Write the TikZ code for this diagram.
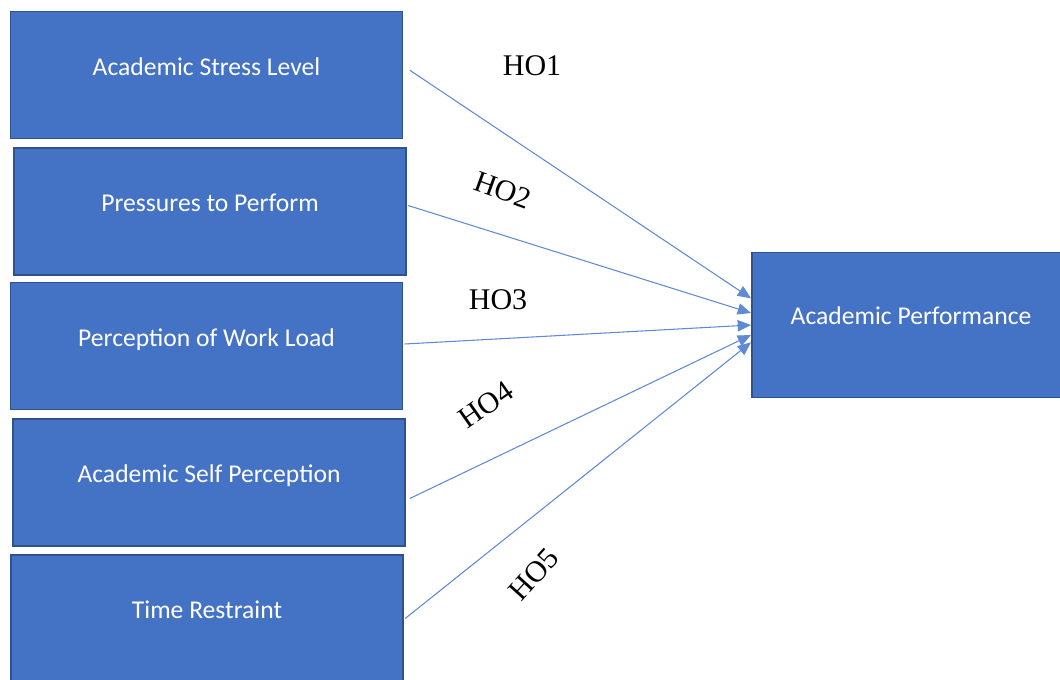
\documentclass[tikz,border=0pt]{standalone}
\usepackage{fontspec}
\setmainfont{Carlito}
\newfontfamily\hofont{Liberation Serif}
\usetikzlibrary{arrows.meta}

\definecolor{boxfill}{RGB}{68,114,196}
\definecolor{boxline}{RGB}{47,82,143}
\definecolor{linkblue}{RGB}{96,138,212}

\tikzset{
  factor/.style={draw=boxline, line width=1.2pt, fill=boxfill, text=white,
    minimum width=294pt, minimum height=95pt, inner sep=0pt,
    font=\fontsize{19.2}{22}\selectfont, text height=12pt, text depth=12pt},
  outcome/.style={factor, minimum width=260pt, minimum height=109pt},
  link/.style={draw=linkblue, line width=0.8pt,
    -{Triangle[length=10pt,width=8.5pt]}},
  hyp/.style={font=\hofont\fontsize{22.5}{24}\selectfont, inner sep=0pt}
}

\begin{document}
\begin{tikzpicture}[x=0.75pt,y=-0.75pt]
  \useasboundingbox (0,0) rectangle (1060,679);
  % predictors on the left
  \node[factor] (stress) at (206.5,75) {Academic Stress Level};
  \node[factor] (pressure) at (210,211.5) {Pressures to Perform};
  \node[factor] (workload) at (206.5,346) {Perception of Work Load};
  \node[factor] (selfperc) at (209,482.5) {Academic Self Perception};
  \node[factor] (timerest) at (207,618.5) {Time Restraint};
  % dependent variable, runs off the right edge
  \node[outcome, anchor=west] (perf) at (751,325) {};
  \node[font=\fontsize{19.2}{22}\selectfont, text=white] (perftext) at (911,316) {Academic Performance};

  \draw[link] ([shift={(5pt,3.5pt)}]stress.east) -- ([yshift=20pt]perf.west);
  \draw[link] ([shift={(1pt,4.5pt)}]pressure.east) -- ([yshift=9pt]perf.west);
  \draw[link] ([shift={(1pt,1.5pt)}]workload.east) -- ([yshift=0pt]perf.west);
  \draw[link] ([shift={(3pt,-12pt)}]selfperc.east) -- ([yshift=-7.5pt]perf.west);
  \draw[link] ([shift={(1pt,0pt)}]timerest.east) -- ([yshift=-13pt]perf.west);

  \node[hyp] (h1) at (532,66) {HO1};
  \node[hyp, rotate=-20] (h2) at (503,190) {HO2};
  \node[hyp] (h3) at (498,300) {HO3};
  \node[hyp, rotate=35] (h4) at (486,405) {HO4};
  \node[hyp, rotate=48] (h5) at (534,574) {HO5};
\end{tikzpicture}
\end{document}
